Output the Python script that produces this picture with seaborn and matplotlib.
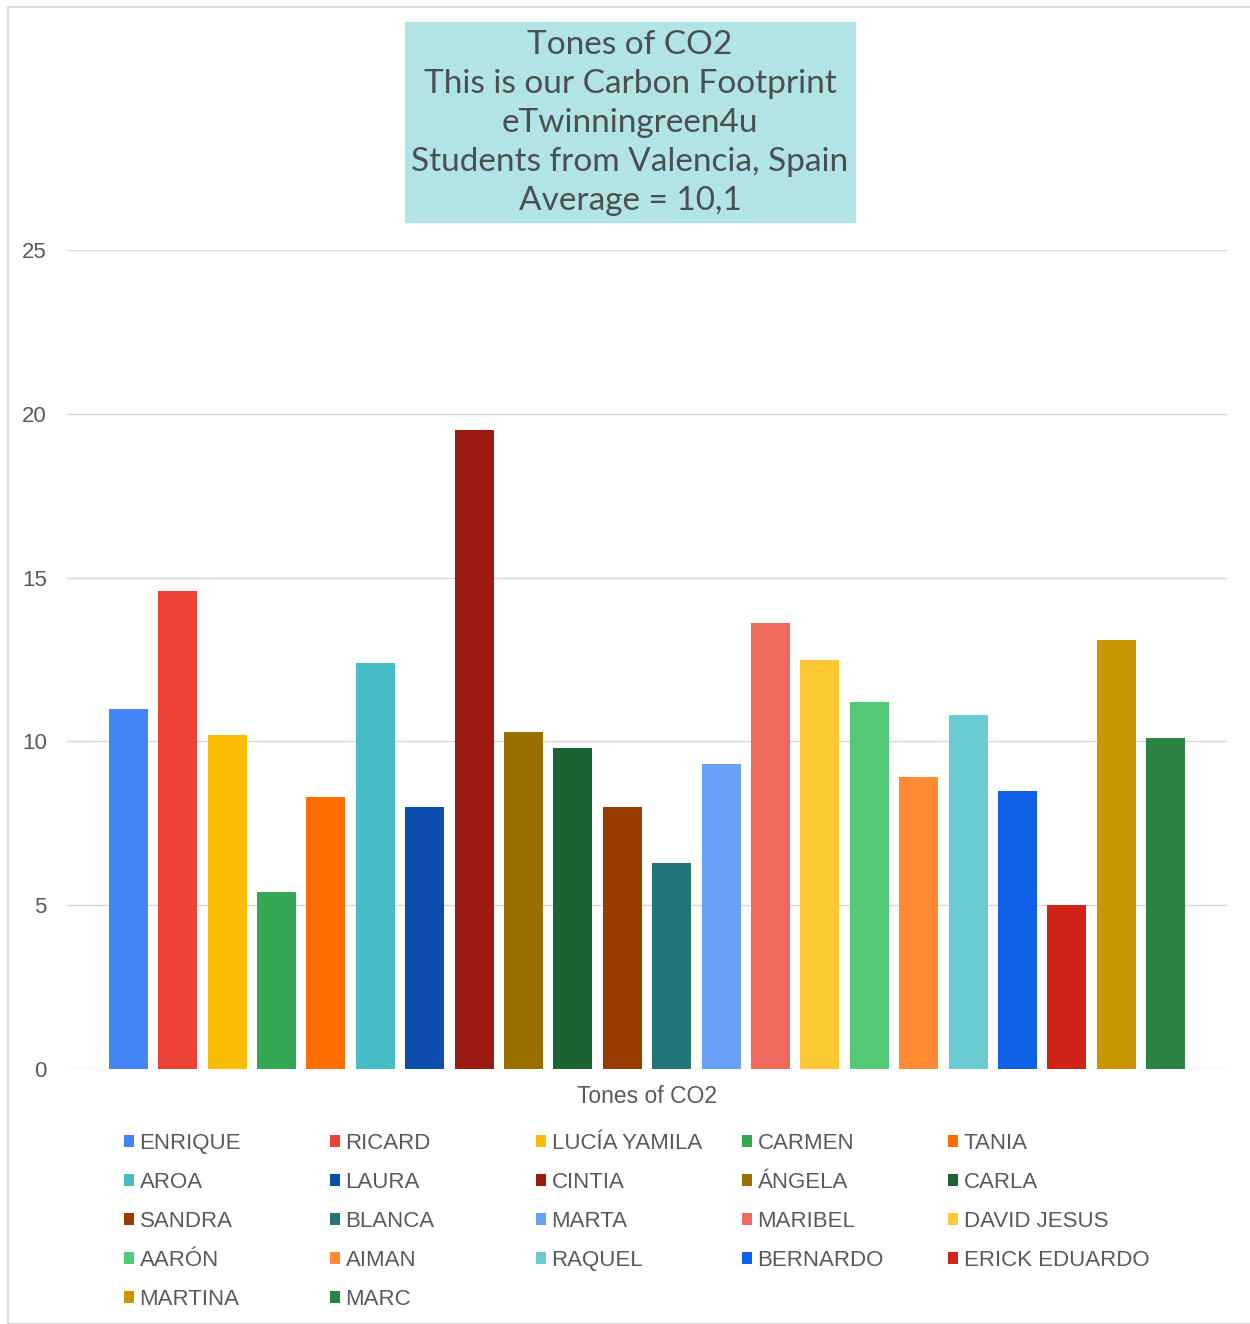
import pandas as pd
import seaborn as sns
import matplotlib.pyplot as plt
from matplotlib.patches import Rectangle

# Datos: toneladas de CO2 por alumno
alumnos = ["ENRIQUE", "RICARD", "LUCÍA YAMILA", "CARMEN", "TANIA",
           "AROA", "LAURA", "CINTIA", "ÁNGELA", "CARLA",
           "SANDRA", "BLANCA", "MARTA", "MARIBEL", "DAVID JESUS",
           "AARÓN", "AIMAN", "RAQUEL", "BERNARDO", "ERICK EDUARDO",
           "MARTINA", "MARC"]
toneladas = [11.0, 14.6, 10.2, 5.4, 8.3,
             12.4, 8.0, 19.5, 10.3, 9.8,
             8.0, 6.3, 9.3, 13.6, 12.5,
             11.2, 8.9, 10.8, 8.5, 5.0,
             13.1, 10.1]
colores = ["#4285f4", "#ea4335", "#fbbc04", "#34a853", "#ff6d01",
           "#46bdc6", "#0b4dae", "#9c1b10", "#997000", "#1d6233",
           "#9a3c00", "#22767a", "#6a9ff7", "#ee6a5f", "#fcc934",
           "#52c974", "#ff8a33", "#6bcbd2", "#0f61e8", "#d12418",
           "#c99500", "#2a8443"]
categoria = "Tones of CO2"
titulo = ["Tones of CO2", "This is our Carbon Footprint", "eTwinningreen4u",
          "Students from Valencia, Spain", "Average = 10,1"]
ticks_y = [0, 5, 10, 15, 20, 25]

df = pd.DataFrame({"Categoria": categoria, "Alumno": alumnos, "CO2": toneladas})

sns.set_theme(style="white")
plt.rcParams["font.family"] = ["Liberation Sans", "DejaVu Sans"]

W, H = 1250, 1324
fig = plt.figure(figsize=(W / 100, H / 100), dpi=100)

# marco gris exterior
fig.patches.append(Rectangle((8 / W, 0), 1, 1 - 7 / H, transform=fig.transFigure,
                             fill=False, edgecolor="#d4d4d4", lw=1.2))

ax = fig.add_axes([67 / W, 1 - 1069 / H, (1227 - 67) / W, (1069 - 250) / H])
sns.barplot(data=df, x="Categoria", y="CO2", hue="Alumno", hue_order=alumnos,
            palette=colores, saturation=1, width=0.937, gap=0.21,
            errorbar=None, linewidth=0, ax=ax)

handles, labels = ax.get_legend_handles_labels()
ax.get_legend().remove()

ax.set_ylim(0, 25)
ax.set_yticks(ticks_y)
ax.grid(axis="y", color="#d9d9d9", lw=1)
ax.set_axisbelow(True)
for s in ax.spines.values():
    s.set_visible(False)
ax.tick_params(axis="both", length=0, labelcolor="#595959")
ax.tick_params(axis="y", pad=14.5, labelsize=16)
ax.tick_params(axis="x", pad=11.5, labelsize=16.5)
ax.set_xlabel("")
ax.set_ylabel("")

# caja del título
fig.patches.append(Rectangle((405 / W, 1 - 222 / H), 450 / W, 200 / H,
                             transform=fig.transFigure, color="#b2e4e6", zorder=0))
fig.text(630 / W, 1 - 123 / H, "\n".join(titulo), ha="center", va="center",
         fontsize=24, color="#4a4f50", family=["Lato", "DejaVu Sans"],
         linespacing=1.37)

# leyenda en 5 columnas, llenada por filas
for c in range(5):
    idx = list(range(c, len(alumnos), 5))
    fig.legend([handles[i] for i in idx], [labels[i] for i in idx],
               loc="upper left", bbox_to_anchor=((124 + 206 * c) / W, 1 - 1133 / H),
               frameon=False, fontsize=16, labelcolor="#595959",
               handlelength=0.45, handleheight=0.45, handletextpad=0.25,
               labelspacing=0.81, borderpad=0, borderaxespad=0)

fig.savefig("out.png", dpi=100)
